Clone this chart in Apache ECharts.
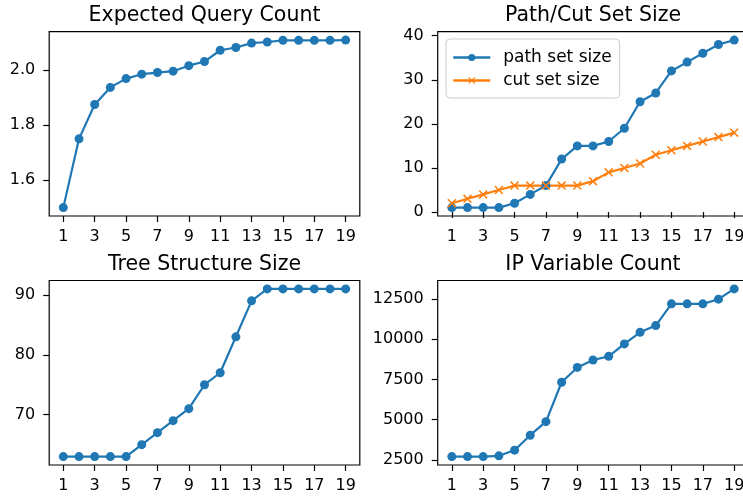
<!DOCTYPE html>
<html>
<head>
<meta charset="utf-8">
<script src="https://cdn.jsdelivr.net/npm/echarts@6/dist/echarts.min.js"></script>
<style>
  html, body { margin: 0; padding: 0; background: #fff; }
  #chart { width: 743px; height: 496px; }
</style>
</head>
<body>
<div id="chart"></div>
<script>
const steps = [1, 2, 3, 4, 5, 6, 7, 8, 9, 10, 11, 12, 13, 14, 15, 16, 17, 18, 19]
const xTicks = [1, 3, 5, 7, 9, 11, 13, 15, 17, 19]

const expectedQuery = [1.5, 1.75, 1.875, 1.937, 1.969, 1.985, 1.991, 1.996, 2.016, 2.031,
  2.072, 2.082, 2.098, 2.102, 2.108, 2.108, 2.108, 2.108, 2.109]
const pathSetSize = [1, 1, 1, 1, 2, 4, 6, 12, 15, 15, 16, 19, 25, 27, 32, 34, 36, 38, 39]
const cutSetSize = [2, 3, 4, 5, 6, 6, 6, 6, 6, 7, 9, 10, 11, 13, 14, 15, 16, 17, 18]
const treeSize = [63, 63, 63, 63, 63, 65, 67, 69, 71, 75, 77, 83, 89, 91, 91, 91, 91, 91, 91]
const ipVarCount = [2700, 2700, 2700, 2750, 3100, 4030, 4870, 7320, 8240, 8700,
  8930, 9700, 10420, 10840, 12190, 12190, 12190, 12480, 13120]

const queryTicks = [1.6, 1.8, 2.0]
const setTicks = [0, 10, 20, 30, 40]
const treeTicks = [70, 80, 90]
const ipTicks = [2500, 5000, 7500, 10000, 12500]

const titles = ['Expected Query Count', 'Path/Cut Set Size', 'Tree Structure Size', 'IP Variable Count']

const BLUE = '#1f77b4'
const ORANGE = '#ff7f0e'
const FONT = 'DejaVu Sans'

// matplotlib style 5% margins
function pad(lists) {
  const all = [].concat(...lists)
  const lo = Math.min(...all), hi = Math.max(...all)
  const m = (hi - lo) * 0.05
  return [lo - m, hi + m]
}
const toPairs = (ys) => ys.map((v, i) => [steps[i], v])

const grids = [
  { left: 49.2, top: 31.7, width: 310.6, height: 184.3 },
  { left: 437.7, top: 31.7, width: 310.6, height: 184.3 },
  { left: 49.2, top: 280.5, width: 310.6, height: 184.5 },
  { left: 437.7, top: 280.5, width: 310.6, height: 184.5 }
].map(g => Object.assign(g, {
  show: true, borderColor: '#000', borderWidth: 1.2, backgroundColor: 'transparent',
  containLabel: false, outerBoundsMode: 'none'
}))

const xPad = pad([steps])

function xAxis(i) {
  return {
    type: 'value', gridIndex: i, min: xPad[0], max: xPad[1],
    splitLine: { show: false },
    axisLine: { show: false },
    axisTick: { show: true, customValues: xTicks, length: 6, lineStyle: { color: '#000', width: 1.2 } },
    axisLabel: { customValues: xTicks, margin: 13, color: '#000', fontSize: 16, fontFamily: FONT }
  }
}
function yAxis(i, lists, ticks, fmt) {
  const r = pad(lists)
  return {
    type: 'value', gridIndex: i, min: r[0], max: r[1],
    splitLine: { show: false },
    axisLine: { show: false },
    axisTick: { show: true, customValues: ticks, length: 6, lineStyle: { color: '#000', width: 1.2 } },
    axisLabel: {
      customValues: ticks, margin: 14, color: '#000', fontSize: 16, fontFamily: FONT,
      formatter: fmt || (v => String(v))
    }
  }
}

const xSymbol = 'path://M0,1.2 L1.2,0 L10,8.8 L8.8,10 Z M8.8,0 L10,1.2 L1.2,10 L0,8.8 Z'

function line(name, data, xi, color, symbol) {
  return {
    name: name, type: 'line', xAxisIndex: xi, yAxisIndex: xi,
    data: toPairs(data),
    symbol: symbol || 'circle', symbolSize: 9,
    showSymbol: true,
    lineStyle: { color: color, width: 2.2 },
    itemStyle: { color: color, opacity: 1 },
    emphasis: { disabled: true },
    animation: false
  }
}

const chart = echarts.init(document.getElementById('chart'))
chart.setOption({
  animation: false,
  title: titles.map((t, i) => ({
    text: t,
    left: grids[i].left + grids[i].width / 2,
    top: i < 2 ? 5 : 254,
    textAlign: 'center',
    padding: 0,
    textStyle: { fontFamily: FONT, fontSize: 20.5, fontWeight: 'normal', color: '#000' }
  })),
  legend: {
    left: 446, top: 39,
    orient: 'vertical',
    data: ['path set size', 'cut set size'],
    itemWidth: 37, itemHeight: 9, itemGap: 6,
    padding: [10, 8, 9, 6],
    borderColor: '#cccccc', borderWidth: 1, borderRadius: 4,
    backgroundColor: 'rgba(255,255,255,0.8)',
    lineStyle: { width: 2.5 },
    textStyle: { fontFamily: FONT, fontSize: 17, color: '#000', padding: [0, 0, 0, 8] }
  },
  grid: grids,
  xAxis: [0, 1, 2, 3].map(xAxis),
  yAxis: [
    yAxis(0, [expectedQuery], queryTicks, v => v.toFixed(1)),
    yAxis(1, [pathSetSize, cutSetSize], setTicks),
    yAxis(2, [treeSize], treeTicks),
    yAxis(3, [ipVarCount], ipTicks)
  ],
  series: [
    line('expected query count', expectedQuery, 0, BLUE),
    line('path set size', pathSetSize, 1, BLUE),
    line('cut set size', cutSetSize, 1, ORANGE, xSymbol),
    line('tree structure size', treeSize, 2, BLUE),
    line('ip variable count', ipVarCount, 3, BLUE)
  ]
})
</script>
</body>
</html>
